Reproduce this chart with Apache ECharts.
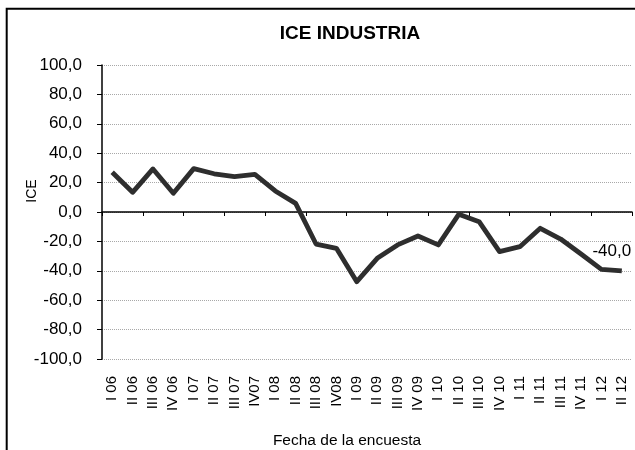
<!DOCTYPE html>
<html>
<head>
<meta charset="utf-8">
<script src="https://cdn.jsdelivr.net/npm/echarts@6/dist/echarts.min.js"></script>
<style>
html,body{margin:0;padding:0;background:#fff;}
#c{width:635px;height:450px;}
</style>
</head>
<body>
<div id="c"></div>
<script>
const categories = ['I 06','II 06','III 06','IV 06','I 07','II 07','III 07','IV07','I 08','II 08','III 08','IV08','I 09','II 09','III 09','IV 09','I 10','II 10','III 10','IV 10','I 11','II 11','III 11','IV 11','I 12','II 12'];
const iceValues = [27.0, 13.4, 29.3, 12.7, 29.5, 26.0, 24.0, 25.6, 14.3, 5.9, -21.8, -24.7, -47.4, -31.5, -22.4, -16.3, -22.4, -1.6, -6.6, -27.0, -23.6, -11.1, -18.4, -28.6, -39.0, -40.0];
const titleText = 'ICE INDUSTRIA';
const yAxisTitle = 'ICE';
const xAxisTitle = 'Fecha de la encuesta';

const FONT = '"Liberation Sans", Arial, sans-serif';
const fmt = v => v.toFixed(1).replace('.', ',');

const seriesData = iceValues.map((v, i) => {
  if (i === iceValues.length - 1) {
    return {
      value: v,
      label: {
        show: true, position: 'top', offset: [-10, -6],
        formatter: p => fmt(p.value),
        fontSize: 17, color: '#000', fontFamily: FONT
      }
    };
  }
  return v;
});

const chart = echarts.init(document.getElementById('c'), null, {renderer: 'canvas'});
chart.setOption({
  animation: false,
  backgroundColor: '#fff',
  grid: {left: 102, right: 3, top: 65, bottom: 91, containLabel: false},
  xAxis: [
    {
      type: 'category', data: categories, position: 'bottom', boundaryGap: true,
      axisLine: {show: true, onZero: true, lineStyle: {color: '#000', width: 1.5}},
      axisTick: {show: true, length: 4, lineStyle: {color: '#000', width: 1}},
      axisLabel: {show: false},
      splitLine: {show: false}
    },
    {
      type: 'category', data: categories, position: 'bottom', boundaryGap: true,
      axisLine: {show: false, onZero: false},
      axisTick: {show: false},
      axisLabel: {show: true, rotate: 90, interval: 0, fontSize: 15, margin: 17, color: '#000', fontFamily: FONT},
      splitLine: {show: false}
    }
  ],
  yAxis: {
    type: 'value', min: -100, max: 100, interval: 20,
    axisLine: {show: true, onZero: false, lineStyle: {color: '#000', width: 1.5}},
    axisTick: {show: true, length: 5, inside: false, lineStyle: {color: '#000', width: 1}},
    axisLabel: {formatter: v => fmt(v), fontSize: 17, margin: 20, color: '#000', fontFamily: FONT},
    splitLine: {show: true, lineStyle: {color: '#a8a8a8', type: 'dotted', width: 1}}
  },
  series: [{
    type: 'line', xAxisIndex: 0, data: seriesData,
    symbol: 'circle', symbolSize: 0, showSymbol: true, showAllSymbol: true,
    lineStyle: {color: '#2e2e2e', width: 4.8, join: 'round', cap: 'butt'},
    itemStyle: {color: '#2e2e2e'},
    z: 5
  }],
  graphic: [
    {type: 'rect', shape: {x: 6.7, y: 8.7, width: 700, height: 500}, style: {fill: 'none', stroke: '#000', lineWidth: 2}, silent: true},
    {type: 'text', x: 350, y: 34, style: {text: titleText, fontSize: 19, fontWeight: 'bold', fontFamily: FONT, fill: '#000', align: 'center', verticalAlign: 'middle'}},
    {type: 'text', x: 32, y: 191, rotation: Math.PI / 2, style: {text: yAxisTitle, fontSize: 14, fontFamily: FONT, fill: '#000', align: 'center', verticalAlign: 'middle'}},
    {type: 'text', x: 347, y: 441, style: {text: xAxisTitle, fontSize: 15.5, fontFamily: FONT, fill: '#000', align: 'center', verticalAlign: 'middle'}}
  ]
});
</script>
</body>
</html>
